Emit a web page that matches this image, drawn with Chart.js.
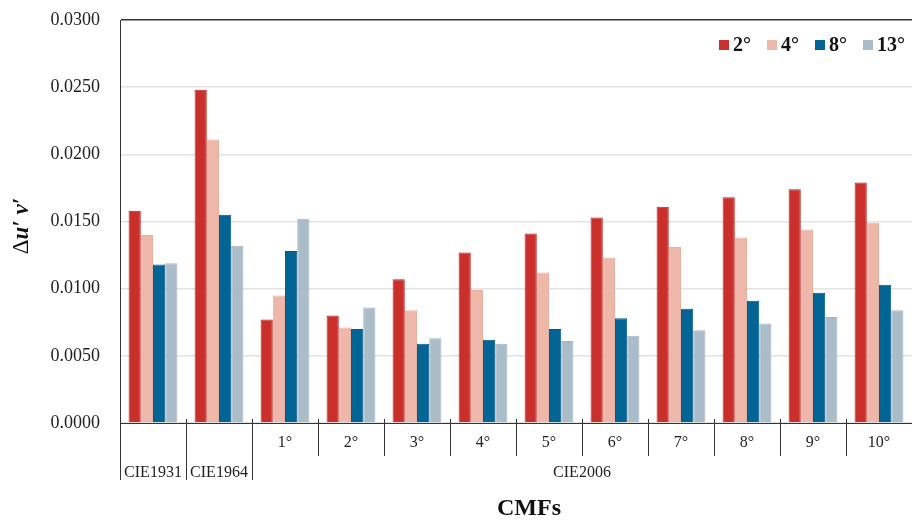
<!DOCTYPE html>
<html>
<head>
<meta charset="utf-8">
<script src="https://cdn.jsdelivr.net/npm/chart.js@4"></script>
<style>
  body { margin: 0; background: #fff; }
  #wrap { width: 912px; height: 520px; }
</style>
</head>
<body>
<div id="wrap"><canvas id="cmfChart" width="912" height="520"></canvas></div>
<script>
// Data
const tickLabels = ['', '', '1°', '2°', '3°', '4°', '5°', '6°', '7°', '8°', '9°', '10°'];
const groupNames = ['CIE1931', 'CIE1964', 'CIE2006'];
const groupSpans = [[0, 0], [1, 1], [2, 11]];
const seriesNames = ['2°', '4°', '8°', '13°'];
const deg2 = [0.0158, 0.0248, 0.0077, 0.0080, 0.0107, 0.0127, 0.0141, 0.0153, 0.0161, 0.0168, 0.0174, 0.0179];
const deg4 = [0.0140, 0.0211, 0.0095, 0.0071, 0.0084, 0.0099, 0.0112, 0.0123, 0.0131, 0.0138, 0.0144, 0.0149];
const deg8 = [0.0118, 0.0155, 0.0128, 0.0070, 0.0059, 0.0062, 0.0070, 0.0078, 0.0085, 0.0091, 0.0097, 0.0103];
const deg13 = [0.0119, 0.0132, 0.0152, 0.0086, 0.0063, 0.0059, 0.0061, 0.0065, 0.0069, 0.0074, 0.0079, 0.0084];

const serif = "'Liberation Serif', 'Times New Roman', serif";
const fills = ['#c9302c', '#edb8a9', '#026596', '#abbcc9'];
const edges = ['#bd2522', '#e9b0a0', '#015a88', '#a3b5c3'];

// Separators, group names, legend and axis titles
const axisDecor = {
    id: 'axisDecor',
    afterDraw(chart) {
        const ctx = chart.ctx;
        const x = chart.scales.x;
        const area = chart.chartArea;
        const half = (x.getPixelForValue(1) - x.getPixelForValue(0)) / 2;
        const bottom = area.bottom;

        ctx.save();
        ctx.strokeStyle = '#333';
        ctx.lineWidth = 1;
        // tall separators around the group names, short ones between degree labels
        for (let i = 0; i <= tickLabels.length; i++) {
            const px = Math.round(x.getPixelForValue(i) - half) + 0.5;
            const tall = i <= 2;
            ctx.beginPath();
            ctx.moveTo(px, tall && i === 0 ? bottom : bottom - 4);
            ctx.lineTo(px, tall ? bottom + 57 : bottom + 33);
            ctx.stroke();
        }

        ctx.fillStyle = '#222';
        ctx.font = '16px ' + serif;
        ctx.textAlign = 'center';
        ctx.textBaseline = 'middle';
        groupNames.forEach((name, g) => {
            const a = x.getPixelForValue(groupSpans[g][0]);
            const b = x.getPixelForValue(groupSpans[g][1]);
            ctx.fillText(name, (a + b) / 2, bottom + 50);
        });

        // legend, top right inside the plot
        ctx.font = 'bold 20px ' + serif;
        ctx.textAlign = 'left';
        const sets = chart.data.datasets;
        const gap = 16;
        const widths = sets.map(d => 14 + ctx.measureText(d.label).width);
        const total = widths.reduce((s, w) => s + w, 0) + gap * (sets.length - 1);
        let lx = area.right - 7 - total;
        const ly = area.top + 25;
        sets.forEach((d, i) => {
            ctx.fillStyle = d.backgroundColor;
            ctx.fillRect(lx, ly - 5, 10, 10);
            ctx.fillStyle = '#111';
            ctx.fillText(d.label, lx + 14, ly + 1);
            lx += widths[i] + gap;
        });

        // x title
        ctx.textAlign = 'center';
        ctx.fillStyle = '#111';
        ctx.font = 'bold 24px ' + serif;
        ctx.fillText('CMFs', (area.left + area.right) / 2 + 13, 509);

        // y title: Δu′ v′
        ctx.translate(22, 226);
        ctx.rotate(-Math.PI / 2);
        ctx.textAlign = 'left';
        const p1 = 'Δ', p2 = "u′ v′";
        ctx.font = '23px ' + serif;
        const w1 = ctx.measureText(p1).width;
        ctx.font = 'bold italic 23px ' + serif;
        const w2 = ctx.measureText(p2).width;
        const start = -(w1 + w2) / 2;
        ctx.font = '23px ' + serif;
        ctx.fillText(p1, start, 0);
        ctx.font = 'bold italic 23px ' + serif;
        ctx.fillText(p2, start + w1, 0);
        ctx.restore();
    }
};

const datasets = [deg2, deg4, deg8, deg13].map((vals, i) => ({
    label: seriesNames[i],
    data: vals,
    backgroundColor: fills[i],
    borderColor: edges[i],
    borderWidth: 1,
    categoryPercentage: 0.74,
    barPercentage: 1.0
}));

new Chart(document.getElementById('cmfChart').getContext('2d'), {
    type: 'bar',
    data: { labels: tickLabels, datasets: datasets },
    options: {
        responsive: false,
        animation: false,
        layout: { padding: { top: 20, right: -2, left: 0, bottom: 0 } },
        plugins: {
            legend: { display: false },
            tooltip: { enabled: false }
        },
        scales: {
            x: {
                grid: { display: false, drawTicks: false },
                border: { display: true, color: '#333', width: 1 },
                ticks: {
                    color: '#222',
                    padding: 10,
                    maxRotation: 0,
                    autoSkip: false,
                    font: { family: serif, size: 16 }
                },
                afterFit(scale) { scale.height = 97; }
            },
            y: {
                min: 0,
                max: 0.03,
                ticks: {
                    stepSize: 0.005,
                    color: '#222',
                    padding: 20,
                    font: { family: serif, size: 18 },
                    callback: v => v.toFixed(4)
                },
                grid: {
                    drawTicks: false,
                    lineWidth: 1.5,
                    color: c => (c.tick && c.tick.value >= 0.0299 ? '#333' : '#e3e3e3')
                },
                border: { display: true, color: '#333', width: 1 },
                afterFit(scale) {
                    scale.width = 120;
                    scale.paddingTop = 0;
                    scale.paddingBottom = 0;
                }
            }
        }
    },
    plugins: [axisDecor]
});
</script>
</body>
</html>
